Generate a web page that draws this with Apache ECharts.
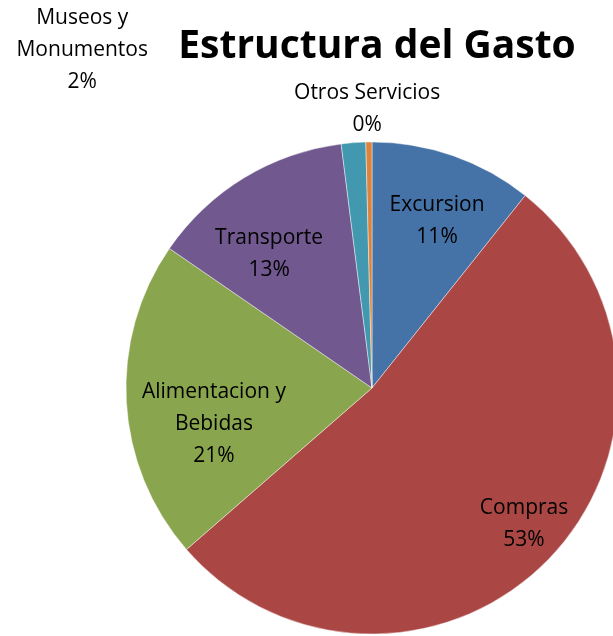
<!DOCTYPE html>
<html>
<head>
<meta charset="utf-8">
<script src="https://cdn.jsdelivr.net/npm/echarts@6/dist/echarts.min.js"></script>
<style>
  html, body { margin: 0; padding: 0; background: #fff; }
  #chart { width: 613px; height: 636px; }
</style>
</head>
<body>
<div id="chart"></div>
<script>
// Spending breakdown (percent of total)
const categories = ['Excursion', 'Compras', 'Alimentacion y Bebidas', 'Transporte', 'Museos y Monumentos', 'Otros Servicios'];
const shares = [10.7, 52.9, 21.0, 13.4, 1.6, 0.4];
const colors = ['#4572A7', '#AA4643', '#89A54E', '#71588F', '#4198AF', '#DB843D'];

// Label anchors: [angle clockwise from 12 o'clock in degrees, distance as a fraction of the radius]
const labelSpots = [[21.3, 0.728], [131.8, 0.829], [257.2, 0.659], [322.5, 0.687], [319.4, 1.81], [359.0, 1.134]];

const CX = 372, CY = 388, R = 246;
const total = shares.reduce((a, b) => a + b, 0);
const FONT = '"Open Sans", "Liberation Sans", sans-serif';

const chart = echarts.init(document.getElementById('chart'), null, { renderer: 'canvas' });

chart.setOption({
  backgroundColor: '#ffffff',
  animation: false,
  title: {
    text: 'Estructura del Gasto',
    left: CX,
    top: 42,
    textAlign: 'center',
    textVerticalAlign: 'middle',
    textStyle: { fontFamily: FONT, fontWeight: 'bold', fontSize: 39, color: '#000' }
  },
  series: [{
    type: 'pie',
    center: [CX, CY],
    radius: [0, R],
    startAngle: 90,
    clockwise: true,
    avoidLabelOverlap: false,
    data: categories.map((name, i) => ({
      name: name,
      value: shares[i],
      itemStyle: { color: colors[i] }
    })),
    itemStyle: { borderColor: 'rgba(255,255,255,0.55)', borderWidth: 0.8 },
    label: {
      show: true,
      position: 'inside',
      fontFamily: FONT,
      fontSize: 21,
      lineHeight: 32,
      color: '#000',
      align: 'center',
      verticalAlign: 'middle',
      formatter: p => p.name.replace(' y ', ' y\n') + '\n' + Math.round(p.value / total * 100) + '%'
    },
    labelLine: { show: false },
    emphasis: { disabled: true },
    labelLayout: p => {
      const [deg, f] = labelSpots[p.dataIndex];
      const a = deg * Math.PI / 180;
      return {
        x: CX + Math.sin(a) * R * f,
        y: CY - Math.cos(a) * R * f,
        align: 'center',
        verticalAlign: 'middle'
      };
    }
  }]
});
</script>
</body>
</html>
